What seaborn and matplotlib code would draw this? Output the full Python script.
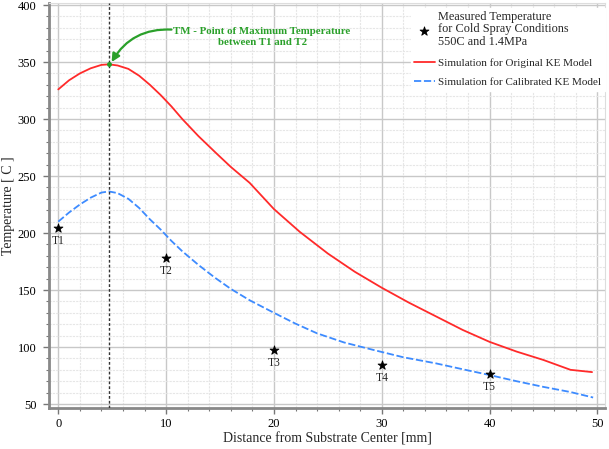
import matplotlib
matplotlib.use('Agg')
import matplotlib.pyplot as plt
import seaborn as sns
from matplotlib.ticker import MultipleLocator

# Simulation curves
x_orig = [0, 1, 2, 3, 4, 4.7, 5.5, 6.5, 7.5, 8.5, 9.5, 10.5, 11.5, 13, 14.65, 16, 17.75,
          20, 22.4, 25, 27.5, 30, 32.5, 35, 37.5, 40, 42.5, 45, 47.5, 49.5]
t_orig = [326, 334, 340, 344.5, 347.5, 348, 347, 344, 338, 330, 321, 311, 300, 285, 270, 258, 244,
          221, 201, 182, 166, 152, 139, 127, 115, 104.5, 96, 88.6, 80, 78]

x_cal = [0, 1, 2, 3, 4, 4.7, 5.5, 6.5, 7.5, 8.5, 9.5, 10.5, 11.5, 13, 14.5, 16, 17.75,
         20, 22, 24, 26.5, 29.2, 32, 35, 37.5, 40, 42.5, 45, 47.5, 49.6]
t_cal = [210, 218, 225, 231, 235.5, 236.5, 235, 230, 222, 212, 203, 193, 184, 172, 161, 151, 141,
         130, 120.5, 112, 104, 97.5, 91, 85.7, 80.5, 75.4, 70, 65, 60.5, 55.7]

# Measured points
x_meas = [0, 10, 20, 30, 40]
t_meas = [204, 178, 97, 84, 76]
meas_labels = ['T1', 'T2', 'T3', 'T4', 'T5']

x_max = 4.7

sns.set_theme(style='white')
plt.rcParams['font.family'] = ['Liberation Serif', 'DejaVu Serif']

fig = plt.figure(figsize=(6.09, 4.49), dpi=100)
ax = fig.add_axes([49/609, 1 - 408/449, 556/609, 405/449])

sns.lineplot(x=x_orig, y=t_orig, ax=ax, color='#ff2a2a', lw=1.3,
             label='Simulation for Original KE Model')
sns.lineplot(x=x_cal, y=t_cal, ax=ax, color='#3d8bff', lw=1.3, linestyle=(0, (4, 1.5)),
             label='Simulation for Calibrated KE Model')
sns.scatterplot(x=x_meas, y=t_meas, ax=ax, color='black', marker='*', s=45,
                edgecolor='black', linewidth=0.6, zorder=5,
                label='Measured Temperature\nfor Cold Spray Conditions\n550C and 1.4MPa')

for xm, tm, lab in zip(x_meas, t_meas, meas_labels):
    ax.annotate(lab, (xm, tm), xytext=(0, -5), textcoords='offset points',
                ha='center', va='top', fontsize=8.3)

ax.axvline(x_max, color='#333333', lw=1, linestyle=(0, (2, 1.5)), zorder=3)
ax.plot([x_max], [348], marker='o', ms=2.5, color='#22a022', zorder=6)

# annotation text and its curved arrow
ax.text(18.9, 372, 'TM - Point of Maximum Temperature\nbetween T1 and T2',
        ha='center', va='center', fontsize=7.8, fontweight='bold', color='#2aa02a',
        linespacing=1.3)
ax.annotate('', xy=(x_max + 0.25, 350), xytext=(10.5, 378.5),
            arrowprops=dict(arrowstyle='-|>', color='#2aa02a', lw=1.6,
                            mutation_scale=12,
                            connectionstyle='arc3,rad=0.3',
                            shrinkA=0, shrinkB=0))

ax.set_xlim(-0.86, 50.7)
ax.set_ylim(46.5, 401.8)
ax.xaxis.set_major_locator(MultipleLocator(10))
ax.xaxis.set_minor_locator(MultipleLocator(2))
ax.yaxis.set_major_locator(MultipleLocator(50))
ax.yaxis.set_minor_locator(MultipleLocator(10))
ax.grid(which='major', color='#c8c8c8', lw=1.0)
ax.grid(which='minor', color='#e6e6e6', lw=0.8, linestyle=(0, (2, 1)))
ax.set_axisbelow(True)

ax.tick_params(which='major', direction='out', length=4, width=1, color='#777777',
               labelsize=9, labelcolor='black', bottom=True, left=True, pad=3)
ax.tick_params(which='minor', direction='out', length=2.5, width=0.8, color='#777777',
               bottom=True, left=True)
ax.tick_params(axis='y', which='major', pad=5)
for side in ['left', 'bottom']:
    ax.spines[side].set_color('#888888')
    ax.spines[side].set_linewidth(2)
for side in ['top', 'right']:
    ax.spines[side].set_color('#dddddd')
    ax.spines[side].set_linewidth(0.8)

ax.set_xlabel('Distance from Substrate Center [mm]', fontsize=10, labelpad=2)
ax.set_ylabel('Temperature [ C ]', fontsize=10, labelpad=2)

h, l = ax.get_legend_handles_labels()
order = [2, 0, 1]
leg = ax.legend([h[i] for i in order], [l[i] for i in order],
                loc='upper left', bbox_to_anchor=(405/609, 1 - 2/449),
                bbox_transform=fig.transFigure, frameon=True, fontsize=8,
                handlelength=1.9, handletextpad=0.3, labelspacing=0.9,
                borderpad=0.3, fancybox=False, framealpha=1)
texts = leg.get_texts()
texts[0].set_fontsize(8.8)
texts[0].set_linespacing(1.05)
leg.get_frame().set_edgecolor('white')
leg.get_frame().set_facecolor('white')

fig.savefig('out.png', dpi=100)
